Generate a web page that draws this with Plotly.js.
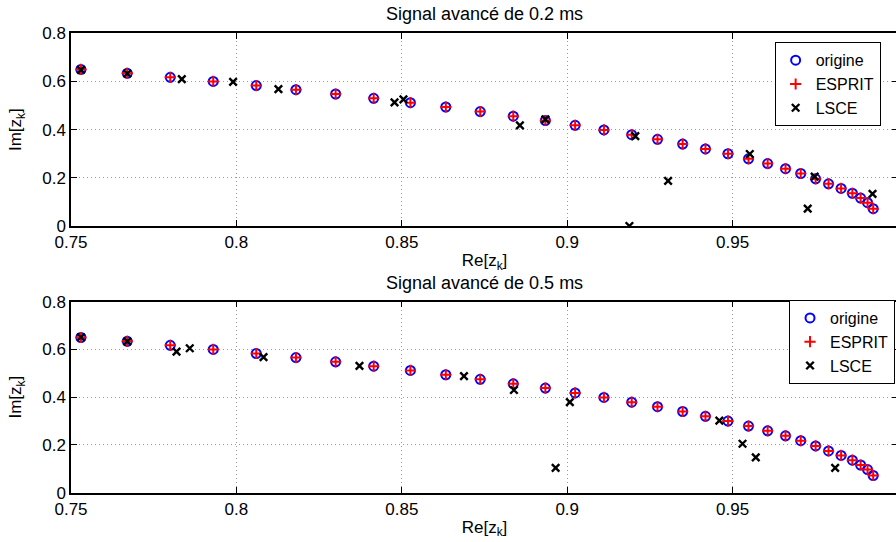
<!DOCTYPE html>
<html>
<head>
<meta charset="utf-8">
<script src="https://cdn.plot.ly/plotly-3.0.1.min.js"></script>
<style>
html,body{margin:0;padding:0;overflow:hidden;background:#fff;}
#chart{width:898px;height:542px;}
</style>
</head>
<body>
<div id="chart"></div>
<script>
// ---- data ----
const origRe = [0.753, 0.767, 0.780, 0.793, 0.806, 0.818, 0.830, 0.8415, 0.8526, 0.8633, 0.8737, 0.8837, 0.8934, 0.9024, 0.9111, 0.9195, 0.9273, 0.9349, 0.9418, 0.9486, 0.9548, 0.9606, 0.966, 0.9706, 0.9751, 0.979, 0.9828, 0.9862, 0.9887, 0.9908, 0.9925];
const origIm = [0.650, 0.634, 0.617, 0.600, 0.583, 0.566, 0.548, 0.530, 0.512, 0.494, 0.475, 0.456, 0.438, 0.418, 0.399, 0.379, 0.360, 0.340, 0.320, 0.300, 0.279, 0.259, 0.238, 0.218, 0.196, 0.175, 0.156, 0.136, 0.116, 0.097, 0.072];
const espritRe = [0.753, 0.767, 0.780, 0.793, 0.806, 0.818, 0.830, 0.8415, 0.8526, 0.8633, 0.8737, 0.8837, 0.8934, 0.9024, 0.9111, 0.9195, 0.9273, 0.9349, 0.9418, 0.9486, 0.9548, 0.9606, 0.966, 0.9706, 0.9751, 0.979, 0.9828, 0.9862, 0.9887, 0.9908, 0.9925];
const espritIm = [0.650, 0.634, 0.617, 0.600, 0.583, 0.566, 0.548, 0.530, 0.512, 0.494, 0.475, 0.456, 0.438, 0.418, 0.399, 0.379, 0.360, 0.340, 0.320, 0.300, 0.279, 0.259, 0.238, 0.218, 0.196, 0.175, 0.156, 0.136, 0.116, 0.097, 0.072];
const lsce02Re = [0.753, 0.767, 0.7835, 0.799, 0.8127, 0.8478, 0.8505, 0.8857, 0.8934, 0.9206, 0.9305, 0.9188, 0.9552, 0.9727, 0.9748, 0.9923];
const lsce02Im = [0.648, 0.633, 0.610, 0.598, 0.568, 0.513, 0.526, 0.418, 0.443, 0.373, 0.187, 0.000, 0.299, 0.072, 0.205, 0.133];
const lsce05Re = [0.753, 0.767, 0.7819, 0.7859, 0.8082, 0.8372, 0.8688, 0.8839, 0.9008, 0.8965, 0.946, 0.953, 0.957, 0.981];
const lsce05Im = [0.651, 0.634, 0.591, 0.605, 0.568, 0.531, 0.488, 0.430, 0.379, 0.104, 0.302, 0.205, 0.148, 0.104];
const xTicks = [0.75, 0.8, 0.85, 0.9, 0.95, 1];
const xTickText = ['0.75', '0.8', '0.85', '0.9', '0.95', '1'];
const yTicks = [0, 0.2, 0.4, 0.6, 0.8];
const yTickText = ['0', '0.2', '0.4', '0.6', '0.8'];
const titles = ['Signal avancé de 0.2 ms', 'Signal avancé de 0.5 ms'];
const names = ['origine', 'ESPRIT', 'LSCE'];

const FONT = 'Liberation Sans, Arial, Helvetica, sans-serif';

function series(xa, ya, leg, lre, lim) {
  return [
    {x: origRe, y: origIm, xaxis: xa, yaxis: ya, legend: leg, name: names[0], type: 'scatter', mode: 'markers',
     marker: {symbol: 'circle-open', size: 9, color: '#0000ff', line: {width: 2, color: '#0000ff'}}},
    {x: espritRe, y: espritIm, xaxis: xa, yaxis: ya, legend: leg, name: names[1], type: 'scatter', mode: 'markers',
     marker: {symbol: 'cross-thin-open', size: 8, color: '#ff0000', line: {width: 2, color: '#ff0000'}}},
    {x: lre, y: lim, xaxis: xa, yaxis: ya, legend: leg, name: names[2], type: 'scatter', mode: 'markers',
     marker: {symbol: 'x-thin-open', size: 7.5, color: '#000000', line: {width: 2.4, color: '#000000'}}}
  ];
}

const data = series('x', 'y', 'legend', lsce02Re, lsce02Im)
  .concat(series('x2', 'y2', 'legend2', lsce05Re, lsce05Im));

function xAxis(anchor) {
  return {
    anchor: anchor, domain: [0, 1], range: [0.75, 1], tickmode: 'array', tickvals: xTicks, ticktext: xTickText,
    showline: true, linecolor: '#000', linewidth: 1.5, mirror: 'ticks', ticks: 'inside', ticklen: 6, tickcolor: '#000',
    showgrid: true, gridcolor: '#9a9a9a', griddash: '1px,3px', gridwidth: 1, zeroline: false,
    tickfont: {family: FONT, size: 17, color: '#000'},
    title: {text: 'Re[z<sub>k</sub>]', font: {family: FONT, size: 17, color: '#000'}, standoff: 3}
  };
}
function yAxis(anchor, dom) {
  return {
    anchor: anchor, domain: dom, range: [0, 0.8], tickmode: 'array', tickvals: yTicks, ticktext: yTickText,
    showline: true, linecolor: '#000', linewidth: 1.5, mirror: 'ticks', ticks: 'inside', ticklen: 6, tickcolor: '#000',
    showgrid: true, gridcolor: '#9a9a9a', griddash: '1px,3px', gridwidth: 1, zeroline: false,
    tickfont: {family: FONT, size: 17, color: '#000'},
    title: {text: 'Im[z<sub>k</sub>]', font: {family: FONT, size: 17, color: '#000'}, standoff: 16}
  };
}

const legendStyle = {bordercolor: '#000', borderwidth: 1, bgcolor: '#fff', font: {family: FONT, size: 16, color: '#000'},
  xanchor: 'right', yanchor: 'top', tracegroupgap: 0};

const layout = {
  width: 898, height: 542,
  margin: {l: 71, r: 0, t: 0, b: 0},
  paper_bgcolor: '#fff', plot_bgcolor: '#fff',
  font: {family: FONT, size: 17, color: '#000'},
  showlegend: true,
  xaxis: xAxis('y'),
  yaxis: yAxis('x', [0.583, 0.9386]),
  xaxis2: xAxis('y2'),
  yaxis2: yAxis('x2', [0.091, 0.4434]),
  legend: Object.assign({x: 0.979, y: 0.922}, legendStyle),
  legend2: Object.assign({x: 0.9964, y: 0.4465}, legendStyle),
  annotations: [
    {text: titles[0], xref: 'paper', yref: 'paper', x: 0.5, y: 1 - 14 / 542, xanchor: 'center', yanchor: 'middle', showarrow: false, font: {family: FONT, size: 18, color: '#000'}},
    {text: titles[1], xref: 'paper', yref: 'paper', x: 0.5, y: 1 - 283 / 542, xanchor: 'center', yanchor: 'middle', showarrow: false, font: {family: FONT, size: 18, color: '#000'}}
  ]
};

Plotly.newPlot('chart', data, layout, {displayModeBar: false, responsive: false});
</script>
</body>
</html>
